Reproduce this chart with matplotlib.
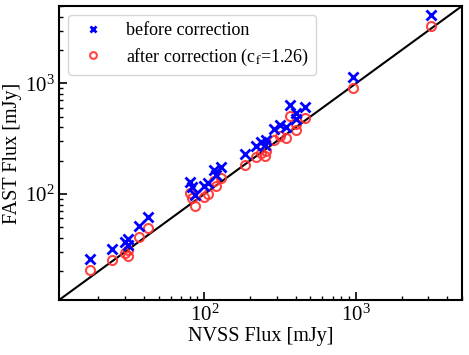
import matplotlib
matplotlib.use("Agg")
import matplotlib.pyplot as plt
import numpy as np

plt.rcParams["font.family"] = ["Liberation Serif", "DejaVu Serif"]
plt.rcParams["mathtext.fontset"] = "stix"

# NVSS flux [mJy]
nvss = [17.7, 24.7, 30.1, 31.1, 31.5, 37.3, 42.2, 79.9, 82.4, 86.3,
        98.9, 105.2, 115.2, 118.8, 128.2, 184.9, 218.6, 236.0, 250.8, 254.7,
        287.6, 315.3, 345.3, 367.0, 402.0, 402.0, 461.6, 959.6, 3105.0]

# FAST flux before correction [mJy]
fast_before = [25.9, 31.9, 36.9, 34.6, 39.2, 51.4, 62.0, 128.4, 115.7, 97.9,
               118.1, 125.7, 164.8, 148.5, 175.3, 229.7, 271.4, 295.0, 277.3, 307.5,
               386.5, 420.0, 402.7, 636.0, 539.6, 475.9, 610.6, 1140.0, 4140.0]

# FAST flux after correction (c_f = 1.26) [mJy]
fast_after = [20.6, 25.3, 29.3, 27.5, 31.1, 40.8, 49.2, 101.9, 91.8, 77.7,
              93.7, 99.8, 130.8, 117.9, 139.1, 182.3, 215.4, 234.1, 220.1, 244.0,
              306.7, 333.3, 319.6, 504.8, 428.3, 377.7, 484.6, 904.8, 3285.7]

lims = [11, 5000]

fig = plt.figure(figsize=(4.69, 3.55), dpi=100)
ax = fig.add_axes([0.126, 0.155, 0.859, 0.828])

ax.plot(nvss, fast_before, "x", color="blue", ms=6.5, mew=2, label="before correction", zorder=3)
ax.plot(nvss, fast_after, "o", mfc="none", mec="#ff3030", ms=6.5, mew=1.5,
        alpha=0.9, label=r"after correction (c$_\mathrm{f}$=1.26)", zorder=2)
ax.plot(lims, lims, color="black", lw=1.5, zorder=1)

ax.set_xscale("log")
ax.set_yscale("log")
ax.set_xlim(lims)
ax.set_ylim(lims)

ax.tick_params(which="both", direction="in", top=False, right=False, labelsize=15, pad=3)
ax.tick_params(which="major", length=6, width=1.2)
ax.tick_params(which="minor", length=3, width=1)
for s in ax.spines.values():
    s.set_linewidth(1.5)

ax.set_xlabel("NVSS Flux [mJy]", fontsize=14.5, labelpad=1)
ax.set_ylabel("FAST Flux [mJy]", fontsize=14.5, labelpad=2)

ax.legend(loc="upper left", fontsize=13, borderpad=0.4, labelspacing=0.4, markerscale=0.75)

fig.savefig("out.png", dpi=100)
